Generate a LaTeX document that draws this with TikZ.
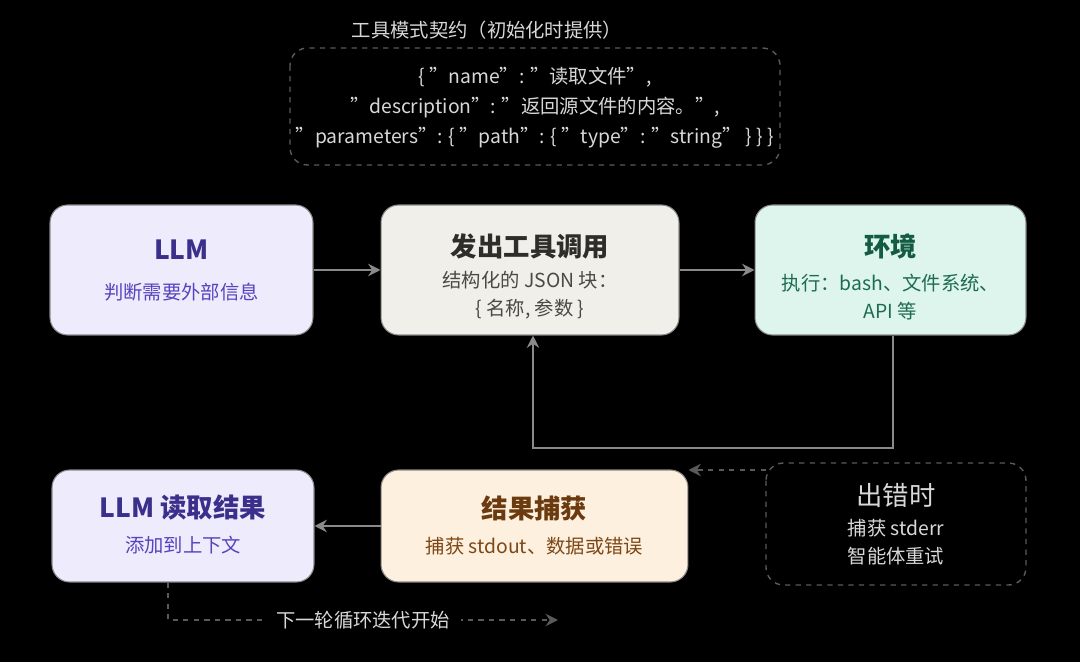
\documentclass[tikz,border=0pt]{standalone}
\usepackage{fontspec}
\setmainfont{Noto Sans CJK SC}
\usetikzlibrary{arrows.meta,positioning}
\definecolor{bgc}{HTML}{000000}
\definecolor{linec}{HTML}{8A8A8A}
\definecolor{dashc}{HTML}{5A5A5A}
\definecolor{txtc}{HTML}{D8D8D8}
\definecolor{llmfill}{HTML}{EEEBFD}
\definecolor{llmdark}{HTML}{3B2F8C}
\definecolor{llmtxt}{HTML}{5644BE}
\definecolor{callfill}{HTML}{F1EFE9}
\definecolor{calldark}{HTML}{2E2D29}
\definecolor{calltxt}{HTML}{4A4944}
\definecolor{envfill}{HTML}{DDF5EC}
\definecolor{envdark}{HTML}{135B42}
\definecolor{envtxt}{HTML}{1D6B50}
\definecolor{resfill}{HTML}{FDF0DE}
\definecolor{resdark}{HTML}{6B3A0E}
\definecolor{restxt}{HTML}{7D4716}
\tikzset{
  box/.style={rounded corners=10pt, draw=linec, line width=0.6pt, minimum height=2.6cm, align=center},
  dbox/.style={rounded corners=10pt, draw=dashc, dashed, line width=0.8pt},
  conn/.style={draw=linec, line width=1.2pt, -{Stealth[length=7pt,width=7pt]}},
  dconn/.style={draw=dashc, line width=1pt, dashed, -{Stealth[length=7pt,width=7pt]}},
  head/.style={font=\fontsize{15}{18}\selectfont\bfseries},
  body/.style={font=\fontsize{11}{14}\selectfont},
}
\begin{document}
\begin{tikzpicture}[x=0.02cm,y=-0.02cm]
\fill[bgc] (0,0) rectangle (1080,662);
\useasboundingbox (0,0) rectangle (1080,662);
% schema contract
\node[text=txtc, body] (schemat) at (487,30) {工具模式契约（初始化时提供）};
\draw[dbox] (290,48) rectangle (780,165);
\node[text=txtc, body, align=center] (schema) at (535,108) {\{ "name": "读取文件",\\[3pt] "description": "返回源文件的内容。",\\[3pt] "parameters": \{ "path": \{ "type": "string" \} \} \}};
% top row
\node[box, fill=llmfill, minimum width=5.26cm] (llm) at (181.5,270) {};
\node[head, text=llmdark] (llmh) at (181.5,250) {LLM};
\node[body, text=llmtxt] (llmb) at (181.5,292) {判断需要外部信息};
\node[box, fill=callfill, minimum width=5.96cm] (call) at (530,270) {};
\node[head, text=calldark] (callh) at (530,246) {发出工具调用};
\node[body, text=calltxt, align=center] (callb) at (530,295) {结构化的 JSON 块：\\[2pt]\{ 名称, 参数 \}};
\node[box, fill=envfill, minimum width=5.42cm] (env) at (890.5,270) {};
\node[head, text=envdark] (envh) at (890.5,246) {环境};
\node[body, text=envtxt, align=center] (envb) at (890.5,297) {执行：bash、文件系统、\\[2pt]API 等};
% bottom row
\node[box, fill=llmfill, minimum width=5.24cm, minimum height=2.24cm] (read) at (183,526) {};
\node[head, text=llmdark] (readh) at (183,508) {LLM 读取结果};
\node[body, text=llmtxt] (readb) at (183,545) {添加到上下文};
\node[box, fill=resfill, minimum width=6.14cm, minimum height=2.24cm] (res) at (534.5,526) {};
\node[head, text=resdark] (resh) at (534.5,508) {结果捕获};
\node[body, text=restxt] (resb) at (534.5,546) {捕获 stdout、数据或错误};
\draw[dbox] (766,463) rectangle (1026,585);
\coordinate (err) at (766,470);
\node[head, text=txtc, font=\fontsize{15}{18}\selectfont] (errh) at (896,495) {出错时};
\node[body, text=txtc, align=center] (errb) at (896,542) {捕获 stderr\\[2pt]智能体重试};
% connectors
\draw[conn] (llm.east) -- (call.west);
\draw[conn] (call.east) -- (env.west);
\draw[conn] (env.south -| 893,0) -- (893,448) -| (call.south -| 533,0);
\draw[conn] (res.west) -- (read.east);
\draw[dconn] (err) -- (res.north east |- err);
\coordinate (next) at (558,620);
\draw[dconn] (read.south -| 168,0) -- (168,620) -- (next)
  node[pos=0.5, fill=bgc, text=txtc, body, inner xsep=6pt] (nextl) {下一轮循环迭代开始};
\end{tikzpicture}
\end{document}
